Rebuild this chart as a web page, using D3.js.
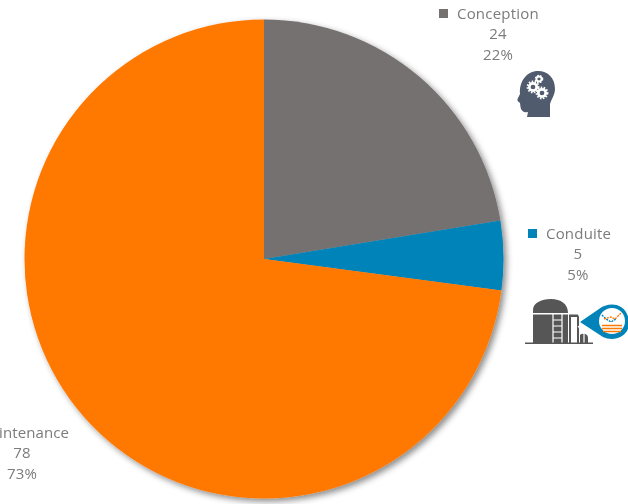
<!DOCTYPE html>
<html><head><meta charset="utf-8">
<script src="https://cdn.jsdelivr.net/npm/d3@7"></script>
<style>html,body{margin:0;padding:0;background:#fff;overflow:hidden}svg{display:block}
text{font-family:"Open Sans",sans-serif;font-size:15px;letter-spacing:.2px;fill:#7b7b7b}</style></head>
<body><svg id="c" width="628" height="504"></svg>
<script>
const categories=["Conception","Conduite","Maintenance"];
const values=[24,5,78];
const percents=["22%","5%","73%"];
const colors=["#767171","#0083b8","#ff7800"];
const svg=d3.select("#c");
const defs=svg.append("defs");
const f=defs.append("filter").attr("id","sh").attr("x","-10%").attr("y","-10%").attr("width","125%").attr("height","125%");
f.append("feDropShadow").attr("dx",3).attr("dy",3).attr("stdDeviation",3).attr("flood-color","#000").attr("flood-opacity",.45);
const soft=defs.append("filter").attr("id","soft").attr("x","-5%").attr("width","110%");
soft.append("feGaussianBlur").attr("stdDeviation",.4);

const pie=d3.pie().sort(null).startAngle(0).endAngle(2*Math.PI)(values);
const arc=d3.arc().innerRadius(0).outerRadius(239.5);
svg.append("g").attr("transform","translate(264,259)").attr("filter","url(#sh)")
 .selectAll("path").data(pie).join("path").attr("d",arc).attr("fill",(d,i)=>colors[i]);

const labels=[{x:457,cx:498,y:19,sw:439},{x:546,cx:578,y:239,sw:528},{x:69,cx:22,y:438,sw:-62}];
const lg=svg.append("g").attr("filter","url(#soft)");
labels.forEach((l,i)=>{
  const g=lg.append("g");
  g.append("text").attr("x",l.x).attr("y",l.y)
    .attr("text-anchor",i==2?"end":"start").style("letter-spacing",i==2?".1px":null).text(categories[i]);
  g.append("rect").attr("x",l.sw).attr("y",l.y-10).attr("width",9).attr("height",9).attr("fill",colors[i]);
  g.append("text").attr("x",l.cx).attr("y",l.y+20).attr("text-anchor","middle").text(values[i]);
  g.append("text").attr("x",l.cx).attr("y",l.y+41).attr("text-anchor","middle").text(percents[i]);
});

// head icon
const head=svg.append("g").attr("transform","translate(517,71)");
head.append("path").attr("fill","#515b6e").attr("d","M10 46 L11 41 C7 42 4 40 3.500 36 L3 32 C1 31 0 29 0.500 28 L3 23 C2 10 10 0 21 0 C31 0 38 7 38 18 C38 24 34 29 33 33 L33 46 Z");
const gear=(x,y,r)=>{const g=head.append("g").attr("transform",`translate(${x},${y})`);
 g.append("circle").attr("r",r*.62).attr("fill","none").attr("stroke","#fff").attr("stroke-width",r*.45);
 g.append("circle").attr("r",r*.92).attr("fill","none").attr("stroke","#fff").attr("stroke-width",r*.3).attr("stroke-dasharray","1.6 1.4");};
gear(22,8,4);gear(16,16,6);gear(25,22,6);

// silo icon
const s=svg.append("g").attr("transform","translate(525,298)");
s.append("path").attr("fill","#565656").attr("d","M8 15 L8 12 C8 5 16 1 26 1 C36 1 43 6 43 15 Z M8 16.500 L43 16.500 L43 45 L8 45 Z");
s.append("path").attr("fill","#565656").attr("d","M44 16.500 L53 16.500 L54 19 L54 45 L44 45 Z M55 37 C57 35 63 35 63 40 L63 45 L55 45 Z");
s.append("path").attr("fill","none").attr("stroke","#fff").attr("stroke-width",1.2).attr("d","M28 16 L28 45 M37 16 L37 45 M28 22 H37 M28 28 H37 M28 34 H37 M28 40 H37");
s.append("rect").attr("x",46).attr("y",19).attr("width",6).attr("height",26).attr("fill","#fff");
s.append("path").attr("fill","none").attr("stroke","#fff").attr("stroke-width",1.2).attr("d","M53 28 L59 36 L59 45");
s.append("rect").attr("x",0).attr("y",44.5).attr("width",68).attr("height",1.5).attr("fill","#565656");
s.append("path").attr("fill","#0083b8").attr("d","M55 24 L74 11 C80 6 90 5 96 9 C104 14 106 26 102 33 C97 41 86 43 78 39 Z");
s.append("circle").attr("cx",87).attr("cy",23).attr("r",13).attr("fill","#fff");
s.append("path").attr("fill","none").attr("stroke","#ff7800").attr("stroke-width",1.6).attr("d","M77 27.500 H97 M77 30.500 H97 M78 33.500 H96");
s.append("path").attr("fill","none").attr("stroke","#0083b8").attr("stroke-width",1.4).attr("stroke-dasharray","2 1").attr("d","M77 17 L81 21 L86 24 L91 21");
s.append("path").attr("fill","none").attr("stroke","#ff7800").attr("stroke-width",1.4).attr("stroke-dasharray","2 1").attr("d","M79 21 L86 19 L90 21 L96 15");
</script></body></html>
